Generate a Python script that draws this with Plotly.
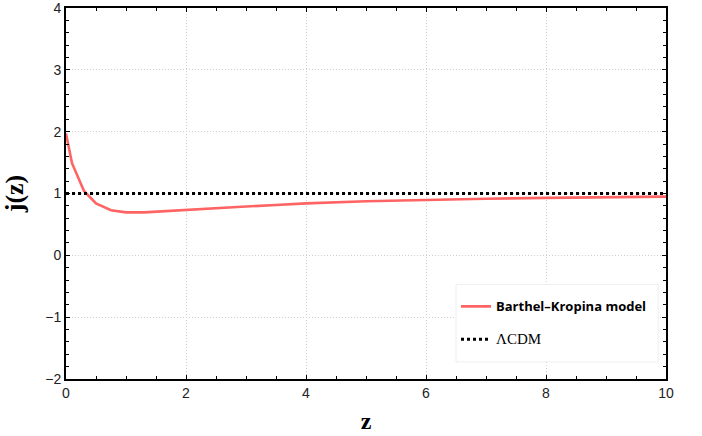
import plotly.graph_objects as go

# Redshift samples and jerk parameter of the Barthel-Kropina model
z_vals = [0.0, 0.1, 0.3, 0.5, 0.75, 1.0, 1.3, 1.7, 2.0, 2.5, 3.0, 3.5, 4.0, 5.0, 6.0, 7.0, 8.0, 9.0, 10.0]
j_vals = [1.97, 1.49, 1.04, 0.84, 0.73, 0.695, 0.695, 0.72, 0.735, 0.765, 0.79, 0.815, 0.84, 0.875, 0.90, 0.915, 0.93, 0.94, 0.95]

# LambdaCDM reference value
lcdm_z = [0.0, 10.0]
lcdm_j = [1.0, 1.0]

x_ticks = [0, 2, 4, 6, 8, 10]
y_ticks = [-2, -1, 0, 1, 2, 3, 4]
y_tick_text = ["\u22122", "\u22121", "0", "1", "2", "3", "4"]

fig = go.Figure()
fig.add_trace(go.Scatter(
    x=z_vals, y=j_vals, mode="lines",
    line=dict(color="#ff6464", width=2.6),
    name="<b>Barthel\u2013Kropina model</b>",
    legendgroup="a",
))
fig.add_trace(go.Scatter(
    x=lcdm_z, y=lcdm_j, mode="lines",
    line=dict(color="black", width=3, dash="dot"),
    name='<span style="font-family:\'Liberation Serif\'; font-size:15px">\u039bCDM</span>',
    legendgroup="b",
))

axis_common = dict(
    showline=True, linecolor="black", linewidth=2, mirror="allticks",
    ticks="inside", ticklen=4, tickwidth=1, tickcolor="black",
    showgrid=True, gridcolor="#cfcfcf", griddash="1px,2px", gridwidth=1,
    zeroline=False, ticklabeloverflow="allow",
    tickfont=dict(family="Liberation Sans, Arial, sans-serif", size=14, color="#222222"),
)

fig.update_xaxes(
    range=[0, 10], tickvals=x_ticks,
    minor=dict(dtick=0.5, ticks="inside", ticklen=3, tickcolor="black", showgrid=False),
    title=dict(text="<b>z</b>", font=dict(family="Liberation Serif, Times New Roman, serif", size=24, color="black"), standoff=12),
    **axis_common,
)
fig.update_yaxes(
    range=[-2, 4], tickvals=y_ticks, ticktext=y_tick_text,
    minor=dict(dtick=0.2, ticks="inside", ticklen=3, tickcolor="black", showgrid=False),
    title=dict(text="<b>j(z)</b>", font=dict(family="Liberation Serif, Times New Roman, serif", size=26, color="black"), standoff=14),
    **axis_common,
)

# Legend panel: white box with a faint border behind the legend entries
fig.add_shape(
    type="rect", xref="paper", yref="paper",
    x0=0.65, x1=0.987, y0=0.046, y1=0.255,
    fillcolor="white", line=dict(color="#eeeeee", width=1), layer="above",
)

fig.update_layout(
    template="none",
    width=702, height=436,
    margin=dict(l=66, r=36, t=8, b=57),
    paper_bgcolor="white", plot_bgcolor="white",
    showlegend=True,
    legend=dict(
        x=0.65, y=0.236, xanchor="left", yanchor="top",
        bgcolor="rgba(0,0,0,0)", borderwidth=0,
        font=dict(family="Open Sans, sans-serif", size=13, color="black"),
        traceorder="grouped", tracegroupgap=13, itemwidth=30,
    ),
)

fig.write_html("out.html")
